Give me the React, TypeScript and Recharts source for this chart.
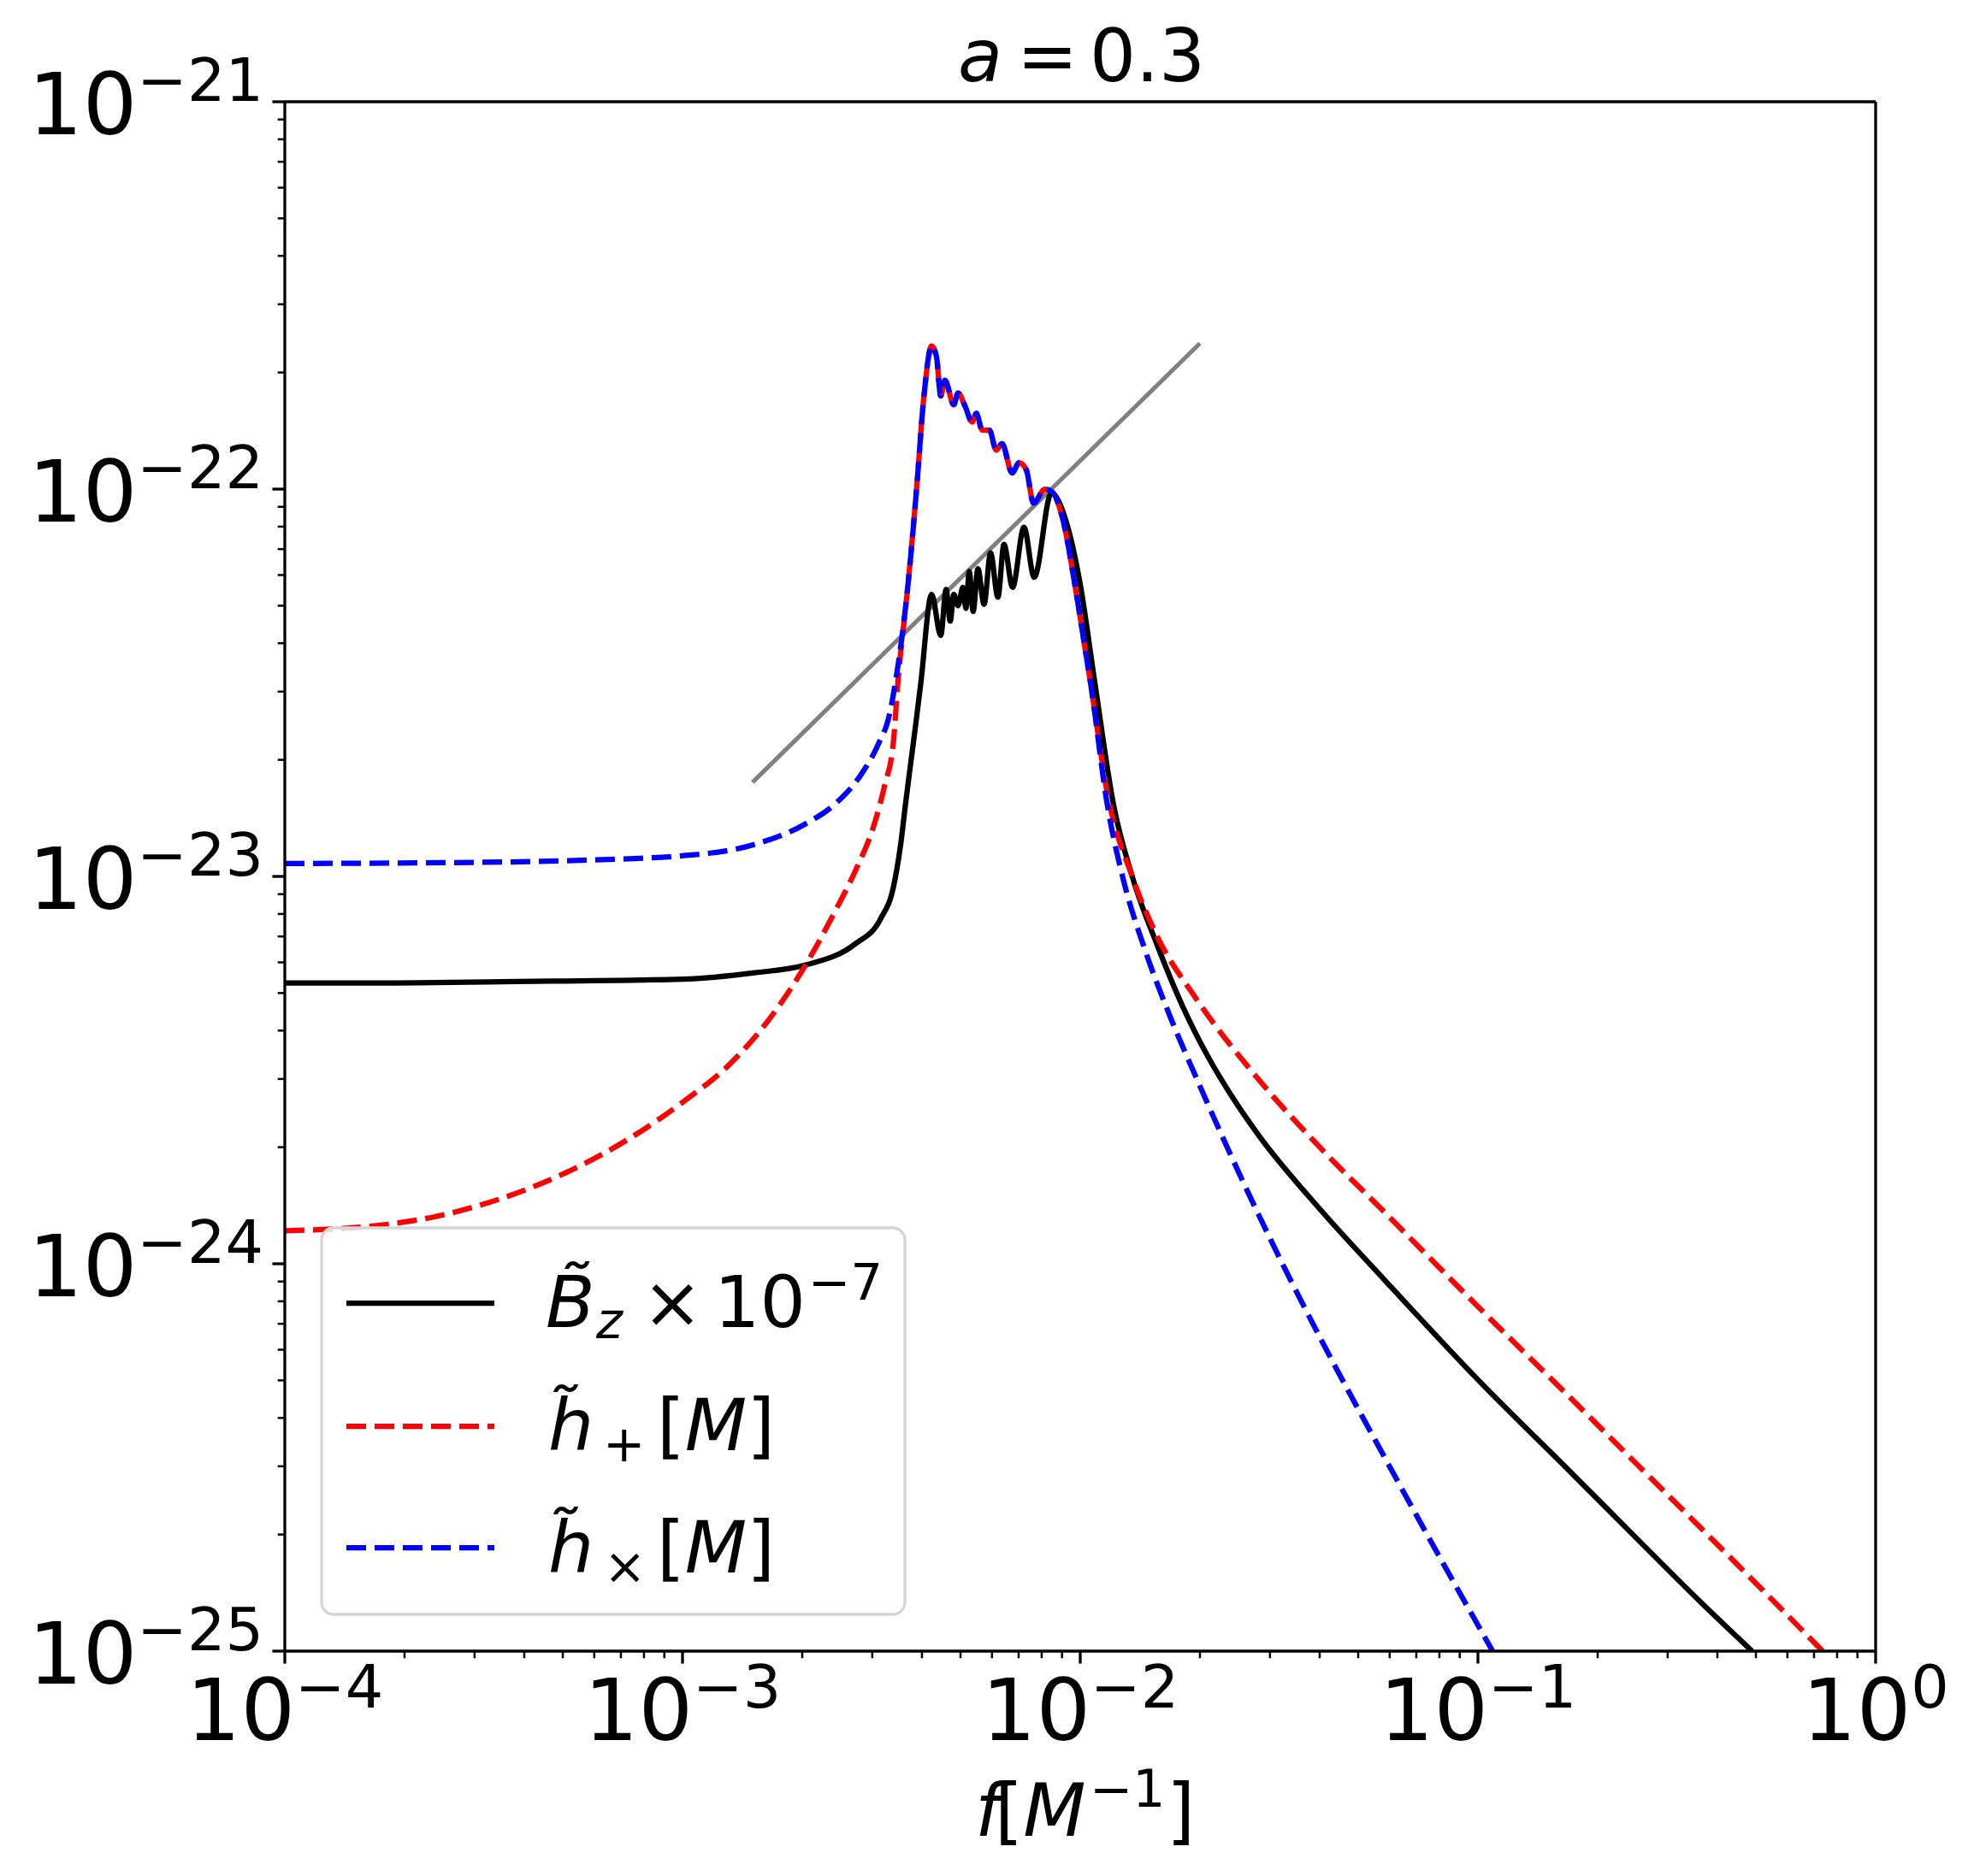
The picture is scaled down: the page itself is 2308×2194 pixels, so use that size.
import React from 'react';
import { LineChart, Line, XAxis, YAxis, CartesianGrid, ReferenceLine, Legend } from 'recharts';

const FONT = 'DejaVu Sans';

// ---- axis decades ----
const xMajor = [1e-4, 1e-3, 1e-2, 1e-1, 1];
const yMajor = [1e-25, 1e-24, 1e-23, 1e-22, 1e-21];
const minorMultipliers = [2, 3, 4, 5, 6, 7, 8, 9];

// ---- B_z x 1e-7 (black) ----
const bzFreq = [
  1e-4, 1.7e-4, 3.53e-4, 1e-3, 1.52e-3, 2.03e-3, 2.72e-3, 3.15e-3, 3.39e-3, 3.54e-3, 3.64e-3, 3.75e-3,
  3.86e-3, 3.975e-3, 4.23e-3, 4.46e-3, 4.6e-3, 4.71e-3, 4.81e-3, 4.93e-3, 5.07e-3, 5.16e-3, 5.26e-3,
  5.38e-3, 5.53e-3, 5.73e-3, 5.95e-3, 6.21e-3, 6.43e-3, 6.76e-3, 7.22e-3, 7.66e-3, 8.46e-3, 9.22e-3,
  1.0e-2, 1.088e-2, 1.213e-2, 1.353e-2, 1.566e-2, 1.811e-2, 2.097e-2, 2.426e-2, 2.806e-2, 4.04e-2,
  5.82e-2, 9.98e-2, 0.1738, 0.25, 0.36, 0.489,
];
const bzAmp = [
  5.31e-24, 5.31e-24, 5.35e-24, 5.43e-24, 5.64e-24, 5.9e-24, 6.7e-24, 7.78e-24, 9.38e-24, 1.22e-23,
  1.55e-23, 1.97e-23, 2.48e-23, 3.17e-23, 5.35e-23, 4.19e-23, 5.51e-23, 4.56e-23, 5.35e-23, 5.0e-23,
  5.58e-23, 4.92e-23, 6.13e-23, 4.83e-23, 6.23e-23, 5.04e-23, 6.84e-23, 5.26e-23, 7.2e-23, 5.58e-23,
  7.97e-23, 5.92e-23, 9.76e-23, 8.24e-23, 5.68e-23, 3.17e-23, 1.53e-23, 9.96e-24, 6.6e-24, 4.61e-24,
  3.42e-24, 2.67e-24, 2.15e-24, 1.37e-24, 9.09e-25, 5.03e-25, 2.85e-25, 1.96e-25, 1.35e-25, 1.0e-25,
];

// ---- h_plus (red, dashed) ----
const hpFreq = [
  1e-4, 1.7e-4, 2.45e-4, 3.53e-4, 5.08e-4, 7.32e-4, 1e-3, 1.312e-3, 1.633e-3, 2.03e-3, 2.439e-3,
  2.72e-3, 3.035e-3, 3.22e-3, 3.39e-3, 3.48e-3, 3.69e-3, 3.88e-3, 4.04e-3, 4.23e-3, 4.35e-3, 4.46e-3,
  4.57e-3, 4.81e-3, 4.93e-3, 5.13e-3, 5.35e-3, 5.48e-3, 5.67e-3, 5.91e-3, 6.15e-3, 6.36e-3, 6.74e-3,
  7.02e-3, 7.32e-3, 7.63e-3, 8.15e-3, 8.49e-3, 9.07e-3, 9.69e-3, 1.035e-2, 1.061e-2, 1.17e-2,
  1.353e-2, 1.566e-2, 1.95e-2, 2.81e-2, 4.04e-2, 5.82e-2, 9.98e-2, 0.1738, 0.25, 0.36, 0.519, 0.736,
];
const hpAmp = [
  1.217e-24, 1.254e-24, 1.331e-24, 1.478e-24, 1.717e-24, 2.1e-24, 2.61e-24, 3.27e-24, 4.21e-24,
  5.86e-24, 8.26e-24, 1.034e-23, 1.364e-23, 1.71e-23, 2.22e-23, 3.17e-23, 5.68e-23, 1.01e-22,
  1.71e-22, 2.34e-22, 2.2e-22, 1.74e-22, 1.91e-22, 1.65e-22, 1.77e-22, 1.64e-22, 1.49e-22, 1.57e-22,
  1.42e-22, 1.42e-22, 1.26e-22, 1.31e-22, 1.1e-22, 1.17e-22, 1.12e-22, 9.2e-23, 1.0e-22, 9.85e-23,
  8.24e-23, 5.68e-23, 3.72e-23, 3.17e-23, 1.64e-23, 9.96e-24, 6.96e-24, 4.86e-24, 2.99e-24, 1.98e-24,
  1.36e-24, 7.77e-25, 4.43e-25, 3.05e-25, 2.1e-25, 1.44e-25, 1.0e-25,
];

// ---- h_cross (blue, dashed) ----
const hxFreq = [
  1e-4, 2.45e-4, 5.08e-4, 1e-3, 1.52e-3, 2.03e-3, 2.439e-3, 2.82e-3, 3.1e-3, 3.313e-3, 3.43e-3,
  3.69e-3, 3.88e-3, 4.04e-3, 4.23e-3, 4.35e-3, 4.46e-3, 4.57e-3, 4.81e-3, 4.93e-3, 5.13e-3, 5.35e-3,
  5.48e-3, 5.67e-3, 5.91e-3, 6.15e-3, 6.36e-3, 6.74e-3, 7.02e-3, 7.32e-3, 7.63e-3, 8.15e-3, 8.49e-3,
  9.07e-3, 9.69e-3, 1.035e-2, 1.061e-2, 1.17e-2, 1.286e-2, 1.456e-2, 1.684e-2, 1.95e-2, 2.806e-2,
  4.04e-2, 5.82e-2, 8.38e-2, 0.1089,
];
const hxAmp = [
  1.08e-23, 1.085e-23, 1.098e-23, 1.131e-23, 1.21e-23, 1.364e-23, 1.55e-23, 1.84e-23, 2.185e-23,
  2.615e-23, 3.17e-23, 5.68e-23, 1.01e-22, 1.71e-22, 2.34e-22, 2.2e-22, 1.74e-22, 1.91e-22, 1.65e-22,
  1.77e-22, 1.64e-22, 1.49e-22, 1.57e-22, 1.42e-22, 1.42e-22, 1.26e-22, 1.31e-22, 1.1e-22, 1.17e-22,
  1.12e-22, 9.2e-23, 1.0e-22, 9.85e-23, 8.24e-23, 5.68e-23, 3.72e-23, 3.17e-23, 1.53e-23, 9.74e-24,
  6.45e-24, 4.34e-24, 3.05e-24, 1.341e-24, 6.35e-25, 3.17e-25, 1.61e-25, 1.0e-25,
];

// ---- grey reference slope line ----
const guideFreq = [1.5e-3, 2.0e-2];
const guideAmp = [1.75e-23, 2.38e-22];

const toPoints = (fs: number[], vs: number[]) => fs.map((f, i) => ({ f, v: vs[i] }));
const bzData = toPoints(bzFreq, bzAmp);
const hpData = toPoints(hpFreq, hpAmp);
const hxData = toPoints(hxFreq, hxAmp);
const guideData = toPoints(guideFreq, guideAmp);

const withMinors = (majors: number[]) => {
  const out: number[] = [];
  majors.forEach((m, i) => {
    out.push(m);
    if (i < majors.length - 1) minorMultipliers.forEach((k) => out.push(k * m));
  });
  return out;
};
const xTicks = withMinors(xMajor);
const yTicks = withMinors(yMajor);

const isMajor = (v: number) => Math.abs(Math.log10(v) - Math.round(Math.log10(v))) < 1e-6;
const expText = (v: number) => {
  const e = Math.round(Math.log10(v));
  return e < 0 ? `\u2212${-e}` : `${e}`;
};

const XTick = (props: any) => {
  const { x, y, payload } = props;
  const v = payload.value;
  const major = isMajor(v);
  return (
    <g>
      <line x1={x} x2={x} y1={y} y2={y + (major ? 14.6 : 8.3)} stroke="#000" strokeWidth={major ? 3.3 : 2.5} />
      {major && (
        <text x={x} y={y + 104} textAnchor="middle" fontFamily={FONT} fontSize={100} fill="#000">
          10
          <tspan dy={-38} fontSize={70}>
            {expText(v)}
          </tspan>
        </text>
      )}
    </g>
  );
};

const YTick = (props: any) => {
  const { x, y, payload } = props;
  const v = payload.value;
  const major = isMajor(v);
  return (
    <g>
      <line x1={x - (major ? 14.6 : 8.3)} x2={x} y1={y} y2={y} stroke="#000" strokeWidth={major ? 3.3 : 2.5} />
      {major && (
        <text x={x - 25} y={y + 38} textAnchor="end" fontFamily={FONT} fontSize={100} fill="#000">
          10
          <tspan dy={-39} fontSize={70}>
            {expText(v)}
          </tspan>
        </text>
      )}
    </g>
  );
};

const gridX = xMajor.slice(1, -1);
const gridY = yMajor.slice(1, -1);
const vGen = (p: any) => (p && p.xAxis && typeof p.xAxis.scale === 'function' ? gridX.map((v) => p.xAxis.scale(v)) : []);
const hGen = (p: any) => (p && p.yAxis && typeof p.yAxis.scale === 'function' ? gridY.map((v) => p.yAxis.scale(v)) : []);

const DASH = '23 10';

const LegendBox = () => (
  <svg width={686} height={456} style={{ display: 'block' }}>
    <rect x={2} y={2} width={682} height={452} rx={14} ry={14} fill="#ffffff" fillOpacity={0.8} stroke="#d5d5d5" strokeWidth={3.3} />
    <g transform="translate(2,2)" fontFamily={FONT} fill="#000">
      <line x1={29} x2={202} y1={88} y2={88} stroke="#000000" strokeWidth={6.25} />
      <line x1={29} x2={202} y1={232} y2={232} stroke="#ff0000" strokeWidth={6.25} strokeDasharray={DASH} />
      <line x1={29} x2={202} y1={374} y2={374} stroke="#0000ff" strokeWidth={6.25} strokeDasharray={DASH} />
      <text fontSize={84}>
        <tspan x={262} y={116} fontStyle="italic">{'B\u0303'}</tspan>
        <tspan x={321} y={129} fontStyle="italic" fontSize={59}>z</tspan>
        <tspan x={375} y={116}>{'\u00d7'}</tspan>
        <tspan x={459} y={116}>10</tspan>
      </text>
      <text x={569} y={84} fontSize={59}>{'\u22127'}</text>
      <text fontSize={84}>
        <tspan x={265} y={260} fontStyle="italic">{'h\u0303'}</tspan>
        <tspan x={329} y={273} fontSize={59}>+</tspan>
        <tspan x={392} y={260}>[</tspan>
        <tspan fontStyle="italic">M</tspan>
        <tspan>]</tspan>
      </text>
      <text fontSize={84}>
        <tspan x={265} y={403} fontStyle="italic">{'h\u0303'}</tspan>
        <tspan x={330} y={416} fontSize={59}>{'\u00d7'}</tspan>
        <tspan x={392} y={403}>[</tspan>
        <tspan fontStyle="italic">M</tspan>
        <tspan>]</tspan>
      </text>
    </g>
  </svg>
);

export default function App() {
  return (
    <div style={{ position: 'absolute', left: 0, top: 0, width: 2308, height: 2194, background: '#fff' }}>
      <LineChart
        width={2308}
        height={2194}
        margin={{ top: 119, right: 115, bottom: 0, left: 0 }}
        style={{ fontFamily: FONT }}
      >
        <CartesianGrid
          stroke="#b0b0b0"
          strokeWidth={3.3}
          verticalCoordinatesGenerator={vGen}
          horizontalCoordinatesGenerator={hGen}
        />
        <XAxis
          type="number"
          dataKey="f"
          scale="log"
          domain={[1e-4, 1]}
          allowDataOverflow
          ticks={xTicks}
          interval={0}
          height={263}
          tickSize={0}
          tickMargin={0}
          tickLine={false}
          tick={XTick}
          axisLine={{ stroke: '#000', strokeWidth: 3.3 }}
        />
        <YAxis
          type="number"
          scale="log"
          domain={[1e-25, 1e-21]}
          allowDataOverflow
          ticks={yTicks}
          interval={0}
          width={333}
          tickSize={0}
          tickMargin={0}
          tickLine={false}
          tick={YTick}
          axisLine={{ stroke: '#000', strokeWidth: 3.3 }}
        />
        <ReferenceLine y={1e-21} stroke="#000" strokeWidth={3.3} />
        <ReferenceLine x={1} stroke="#000" strokeWidth={3.3} />
        <Line
          data={guideData}
          dataKey="v"
          name="guide"
          type="linear"
          stroke="#808080"
          strokeWidth={5}
          dot={false}
          activeDot={false}
          legendType="none"
          isAnimationActive={false}
        />
        <Line
          data={bzData}
          dataKey="v"
          name="Bz"
          type="monotoneX"
          stroke="#000000"
          strokeWidth={6.25}
          strokeLinejoin="round"
          dot={false}
          activeDot={false}
          isAnimationActive={false}
        />
        <Line
          data={hpData}
          dataKey="v"
          name="hplus"
          type="monotoneX"
          stroke="#ff0000"
          strokeWidth={6.25}
          strokeDasharray={DASH}
          strokeLinejoin="round"
          dot={false}
          activeDot={false}
          isAnimationActive={false}
        />
        <Line
          data={hxData}
          dataKey="v"
          name="hcross"
          type="monotoneX"
          stroke="#0000ff"
          strokeWidth={6.25}
          strokeDasharray={DASH}
          strokeLinejoin="round"
          dot={false}
          activeDot={false}
          isAnimationActive={false}
        />
        <Legend
          layout="vertical"
          verticalAlign="middle"
          align="center"
          wrapperStyle={{ position: 'absolute', left: 374, top: 1434, width: 686, height: 456, margin: 0, padding: 0 }}
          content={() => <LegendBox />}
        />
      </LineChart>
      <svg
        width={2308}
        height={2194}
        style={{ position: 'absolute', left: 0, top: 0, pointerEvents: 'none' }}
      >
        <text y={95} fontFamily={FONT} fontSize={85} fill="#000">
          <tspan x={1120} fontStyle="italic">a</tspan>
          <tspan x={1189}>=</tspan>
          <tspan x={1274}>0.3</tspan>
        </text>
        <text y={2147} fontFamily={FONT} fontSize={85} fill="#000">
          <tspan x={1140} fontStyle="italic">f</tspan>
          <tspan x={1163}>[</tspan>
          <tspan fontStyle="italic">M</tspan>
          <tspan x={1274} dy={-34} fontSize={60}>{'\u22121'}</tspan>
          <tspan x={1364} dy={34}>]</tspan>
        </text>
      </svg>
    </div>
  );
}
